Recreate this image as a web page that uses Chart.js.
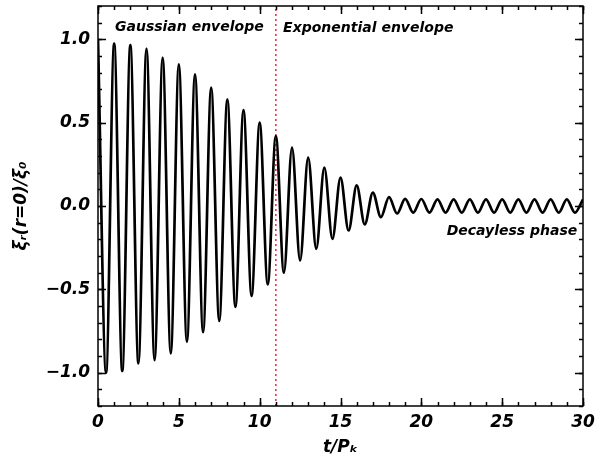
<!DOCTYPE html>
<html>
<head>
<meta charset="utf-8">
<script src="https://cdn.jsdelivr.net/npm/chart.js@4/dist/chart.umd.min.js"></script>
<style>
  html, body { margin: 0; padding: 0; background: #fff; }
  #wrap { width: 596px; height: 459px; }
</style>
</head>
<body>
<div id="wrap"><canvas id="grafico" width="596" height="459"></canvas></div>
<script>
// ================= DADOS =================
// instantes (t/Pk) dos maximos e minimos da oscilacao
const tempos = [
  0, 0.5, 1, 1.5, 2, 2.5, 3, 3.5, 4, 4.5, 5, 5.5, 6, 6.5, 7, 7.5, 8, 8.5, 9, 9.5,
  10, 10.5, 11, 11.5, 12, 12.5, 13, 13.5, 14, 14.5, 15, 15.5, 16, 16.5, 17, 17.5,
  18, 18.5, 19, 19.5, 20, 20.5, 21, 21.5, 22, 22.5, 23, 23.5, 24, 24.5, 25, 25.5,
  26, 26.5, 27, 27.5, 28, 28.5, 29, 29.5, 30
];
// deslocamento normalizado xi_r(r=0)/xi_0 nesses instantes
const deslocamento = [
  1.0, -1.0, 0.975, -0.99, 0.965, -0.945, 0.945, -0.925, 0.89, -0.885,
  0.85, -0.815, 0.79, -0.757, 0.71, -0.69, 0.64, -0.606, 0.575, -0.54,
  0.50, -0.47, 0.42, -0.40, 0.35, -0.327, 0.29, -0.257, 0.23, -0.197,
  0.17, -0.147, 0.124, -0.111, 0.08, -0.067, 0.053, -0.045, 0.043, -0.04,
  0.042, -0.04, 0.04, -0.04, 0.04, -0.04, 0.04, -0.04, 0.04, -0.04,
  0.04, -0.04, 0.04, -0.04, 0.04, -0.04, 0.04, -0.04, 0.04, -0.04, 0.04
];
const ticksX = [0, 5, 10, 15, 20, 25, 30];
const ticksY = [-1.0, -0.5, 0.0, 0.5, 1.0];
const transicao = [11]; // fim do envelope gaussiano
const faixaY = [-1.2, 1.2];

// textos e posicao (em coordenadas de dados) das fases
const fases = [
  { texto: 'Gaussian envelope', t: 1.05, y: 1.048, alinhar: 'left' },
  { texto: 'Exponential envelope', t: 11.45, y: 1.042, alinhar: 'left' },
  { texto: 'Decayless phase', t: 29.65, y: -0.172, alinhar: 'right' }
];

const FONTE = '"DejaVu Sans", "Liberation Sans", sans-serif';

// ================= MOLDURA E MARCAS INTERNAS =================
const moldura = {
  id: 'moldura',
  afterDatasetsDraw(chart) {
    const { ctx, chartArea: a, scales: { x, y } } = chart;
    ctx.save();
    ctx.strokeStyle = '#000';
    ctx.lineWidth = 1.5;

    // ticks menores e maiores, para dentro nos quatro lados
    const marcaX = (v, len) => {
      const px = Math.round(x.getPixelForValue(v)) + 0.5;
      ctx.beginPath();
      ctx.moveTo(px, a.bottom); ctx.lineTo(px, a.bottom - len);
      ctx.moveTo(px, a.top); ctx.lineTo(px, a.top + len);
      ctx.stroke();
    };
    const marcaY = (v, len) => {
      const py = Math.round(y.getPixelForValue(v)) + 0.5;
      ctx.beginPath();
      ctx.moveTo(a.left, py); ctx.lineTo(a.left + len, py);
      ctx.moveTo(a.right, py); ctx.lineTo(a.right - len, py);
      ctx.stroke();
    };
    for (let v = ticksX[0]; v <= ticksX[ticksX.length - 1]; v++) marcaX(v, 4);
    ticksX.forEach(v => marcaX(v, 8));
    for (let i = -12; i <= 12; i++) marcaY(i / 10, 4);
    ticksY.forEach(v => marcaY(v, 8));

    ctx.strokeRect(a.left, a.top, a.right - a.left, a.bottom - a.top);

    // rotulos das fases
    ctx.fillStyle = '#000';
    ctx.font = 'italic bold 14px ' + FONTE;
    ctx.textBaseline = 'alphabetic';
    fases.forEach(f => {
      ctx.textAlign = f.alinhar;
      ctx.fillText(f.texto, x.getPixelForValue(f.t), y.getPixelForValue(f.y));
    });
    ctx.restore();
  }
};

// ================= GRAFICO =================
const ctx = document.getElementById('grafico').getContext('2d');
const serie = tempos.map((t, i) => ({ x: t, y: deslocamento[i] }));

new Chart(ctx, {
  type: 'line',
  data: {
    datasets: [
      {
        data: serie,
        borderColor: '#000',
        borderWidth: 2.7,
        pointRadius: 0,
        cubicInterpolationMode: 'monotone',
        fill: false
      },
      {
        // linha pontilhada na troca de envelope
        data: faixaY.map(v => ({ x: transicao[0], y: v })),
        borderColor: '#f0304a',
        borderWidth: 1.6,
        borderDash: [2, 3],
        pointRadius: 0,
        fill: false
      }
    ]
  },
  options: {
    responsive: false,
    animation: false,
    events: [],
    layout: { padding: { top: 6, right: 13, left: 0, bottom: 0 } },
    plugins: { legend: { display: false }, tooltip: { enabled: false } },
    scales: {
      x: {
        type: 'linear',
        min: ticksX[0],
        max: ticksX[ticksX.length - 1],
        afterBuildTicks: s => { s.ticks = ticksX.map(v => ({ value: v })); },
        afterFit: s => { s.height = 53; s.paddingLeft = 0; s.paddingRight = 0; },
        grid: { display: false, drawTicks: false },
        border: { display: false },
        ticks: {
          autoSkip: false, maxRotation: 0, padding: 6, color: '#000',
          font: { family: FONTE, size: 17, style: 'italic', weight: 'bold' },
          callback: v => String(v)
        },
        title: {
          display: true, text: 't/Pₖ', color: '#000',
          padding: { top: 0, bottom: 1 },
          font: { family: FONTE, size: 17, style: 'italic', weight: 'bold' }
        }
      },
      y: {
        type: 'linear',
        min: faixaY[0],
        max: faixaY[1],
        afterBuildTicks: s => { s.ticks = ticksY.map(v => ({ value: v })); },
        afterFit: s => { s.width = 98; s.paddingTop = 0; s.paddingBottom = 0; },
        grid: { display: false, drawTicks: false },
        border: { display: false },
        ticks: {
          autoSkip: false, padding: 8, color: '#000',
          font: { family: FONTE, size: 17, style: 'italic', weight: 'bold' },
          callback: v => v.toFixed(1).replace('-', '−')
        },
        title: {
          display: true, text: 'ξᵣ(r=0)/ξ₀', color: '#000',
          padding: { top: 11, bottom: 0 },
          font: { family: FONTE, size: 17, style: 'italic', weight: 'bold' }
        }
      }
    }
  },
  plugins: [moldura]
});
</script>
</body>
</html>
